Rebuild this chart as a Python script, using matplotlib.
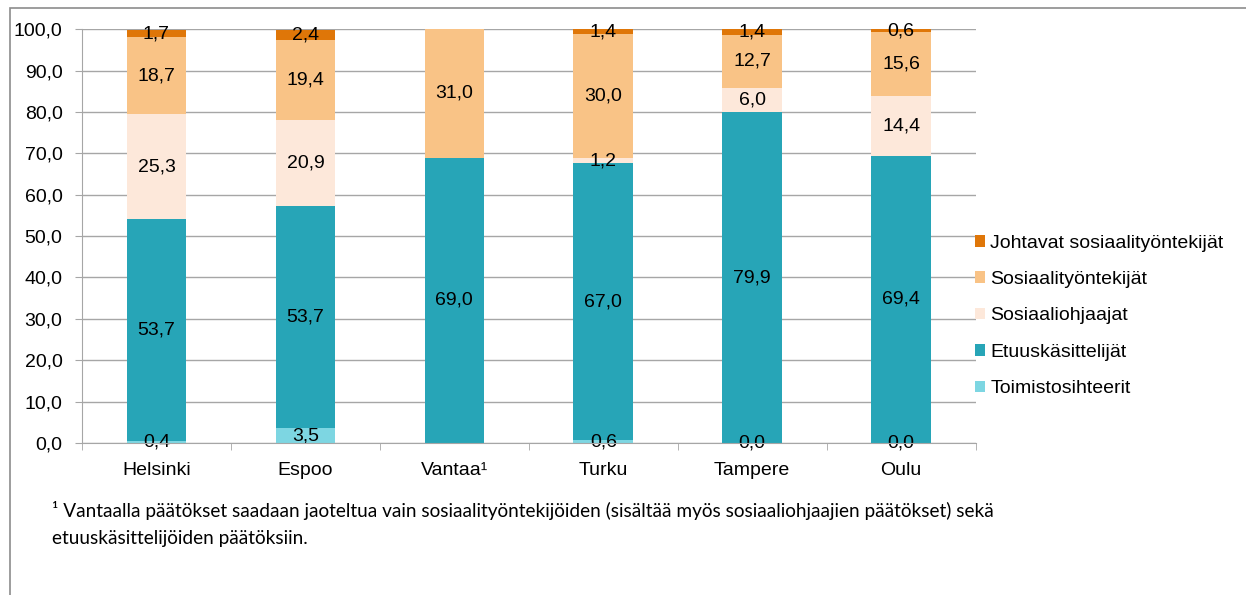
import numpy as np
import matplotlib
matplotlib.use("Agg")
import matplotlib.pyplot as plt
from matplotlib.patches import Rectangle

plt.rcParams["font.family"] = ["Liberation Sans", "DejaVu Sans"]

cities = ["Helsinki", "Espoo", "Vantaa¹", "Turku", "Tampere", "Oulu"]
toimistosihteerit = [0.4, 3.5, np.nan, 0.6, 0.0, 0.0]
etuuskasittelijat = [53.7, 53.7, 69.0, 67.0, 79.9, 69.4]
sosiaaliohjaajat = [25.3, 20.9, np.nan, 1.2, 6.0, 14.4]
sosiaalityontekijat = [18.7, 19.4, 31.0, 30.0, 12.7, 15.6]
johtavat = [1.7, 2.4, np.nan, 1.4, 1.4, 0.6]

series = [
    ("Toimistosihteerit", toimistosihteerit, "#7dd6e2"),
    ("Etuuskäsittelijät", etuuskasittelijat, "#27a5b7"),
    ("Sosiaaliohjaajat", sosiaaliohjaajat, "#fde8da"),
    ("Sosiaalityöntekijät", sosiaalityontekijat, "#f9c386"),
    ("Johtavat sosiaalityöntekijät", johtavat, "#df7608"),
]

footnote = ("¹ Vantaalla päätökset saadaan jaoteltua vain sosiaalityöntekijöiden "
            "(sisältää myös sosiaaliohjaajien päätökset) sekä\netuuskäsittelijöiden päätöksiin.")

fs = 14
fig = plt.figure(figsize=(12.46, 5.95), dpi=100)
ax = fig.add_axes([0.0658, 0.2555, 0.7172, 0.6953])

x = np.arange(len(cities))
bottom = np.zeros(len(cities))
for name, vals, color in series:
    vals = np.array(vals, dtype=float)
    h = np.nan_to_num(vals)
    bars = ax.bar(x, h, 0.4, bottom=bottom, color=color, label=name, zorder=3)
    labels = ["" if np.isnan(v) else f"{v:.1f}".replace(".", ",") for v in vals]
    ax.bar_label(bars, labels=labels, label_type="center", fontsize=fs, zorder=4)
    bottom += h

grid_c = "#a6a6a6"
ax.set_ylim(0, 100)
ax.set_xlim(-0.5, len(cities) - 0.5)
ax.set_yticks(np.arange(0, 101, 10))
ax.set_yticklabels([f"{v:.1f}".replace(".", ",") for v in np.arange(0, 101, 10)], fontsize=fs)
ax.set_xticks(x)
ax.set_xticklabels(cities, fontsize=fs)
ax.set_xticks(np.arange(-0.5, len(cities)), minor=True)
ax.tick_params(axis="x", which="major", length=0, pad=14)
ax.tick_params(axis="x", which="minor", length=5, color=grid_c)
ax.tick_params(axis="y", length=5, color=grid_c, pad=9)
ax.yaxis.grid(True, color=grid_c, linewidth=1, zorder=0)
for s in ["top", "right"]:
    ax.spines[s].set_visible(False)
for s in ["left", "bottom"]:
    ax.spines[s].set_color(grid_c)
    ax.spines[s].set_zorder(5)

h, l = ax.get_legend_handles_labels()
fig.legend(h[::-1], l[::-1], loc="center left", bbox_to_anchor=(0.776, 0.469),
           frameon=False, fontsize=fs, handlelength=0.55, handleheight=0.55,
           handletextpad=0.25, labelspacing=1.0, borderaxespad=0)

fig.text(0.042, 0.158, footnote, fontsize=13.7, family=["Lato", "DejaVu Sans"],
         va="top", linespacing=1.75)

fig.patches.append(Rectangle((0.008, -0.01), 1.0, 0.997, transform=fig.transFigure,
                             fill=False, edgecolor="#8c8c8c", linewidth=1.2))

fig.savefig("out.png", dpi=100)
